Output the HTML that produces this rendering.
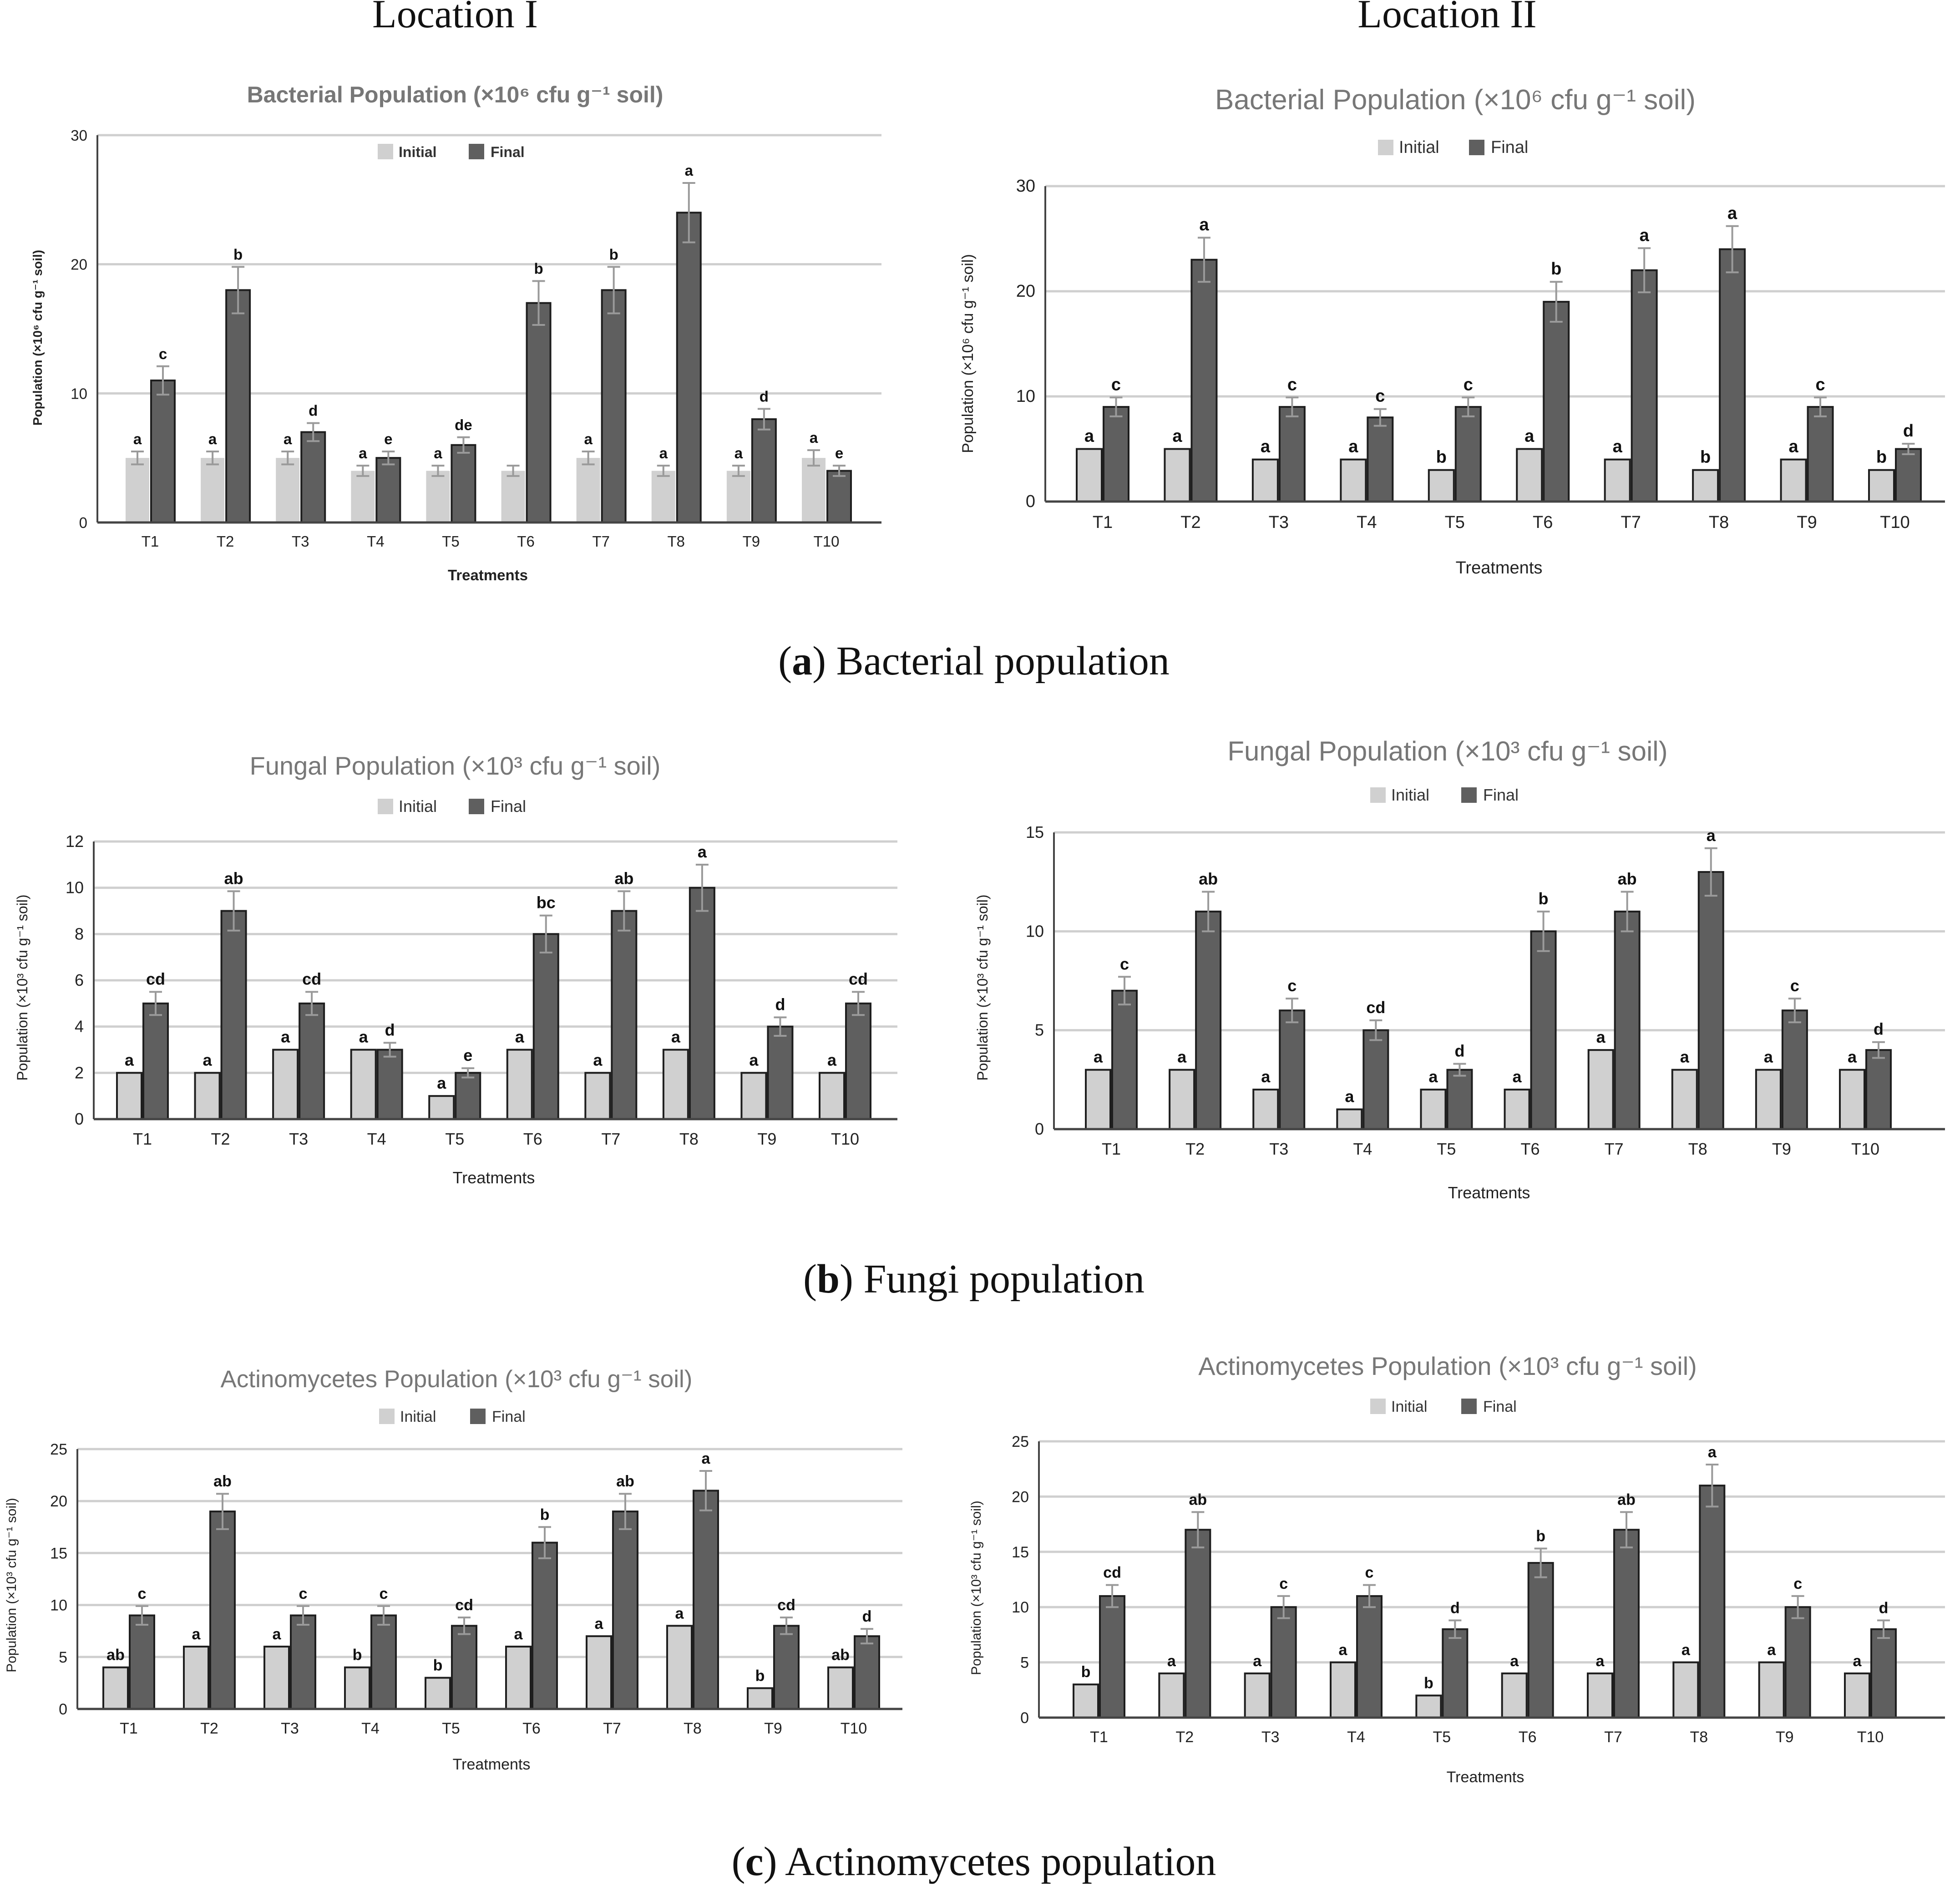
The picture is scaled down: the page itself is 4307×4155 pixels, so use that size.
<!DOCTYPE html>
<html><head><meta charset="utf-8"><style>
html,body{margin:0;padding:0;background:#fff;}
svg{display:block;}
</style></head><body>
<svg id="fig" width="4307" height="4155" viewBox="0 0 4307 4155" xmlns="http://www.w3.org/2000/svg">
<text x="1000" y="60" font-family="Liberation Serif, serif" font-size="88" text-anchor="middle" fill="#111">Location I</text>
<text x="3180" y="60" font-family="Liberation Serif, serif" font-size="88" text-anchor="middle" fill="#111">Location II</text>
<text x="2140" y="1482" font-family="Liberation Serif, serif" font-size="90" text-anchor="middle" fill="#111">(<tspan font-weight="bold">a</tspan>) Bacterial population</text>
<text x="2140" y="2840" font-family="Liberation Serif, serif" font-size="90" text-anchor="middle" fill="#111">(<tspan font-weight="bold">b</tspan>) Fungi population</text>
<text x="2140" y="4120" font-family="Liberation Serif, serif" font-size="90" text-anchor="middle" fill="#111">(<tspan font-weight="bold">c</tspan>) Actinomycetes population</text>
</svg>
<script>
// ---- data ----
const categories = ["T1","T2","T3","T4","T5","T6","T7","T8","T9","T10"];
const aLeftInitial = [5,5,5,4,4,4,5,4,4,5];
const aLeftFinal = [11,18,7,5,6,17,18,24,8,4];
const aLeftInitErr = [0.5,0.5,0.5,0.4,0.4,0.4,0.5,0.4,0.4,0.6];
const aLeftFinalErr = [1.1,1.8,0.7,0.5,0.6,1.7,1.8,2.3,0.8,0.4];
const aLeftInitLetters = ["a","a","a","a","a","","a","a","a","a"];
const aLeftFinalLetters = ["c","b","d","e","de","b","b","a","d","e"];
const aLeftTicks = [0,10,20,30];

const aRightInitial = [5,5,4,4,3,5,4,3,4,3];
const aRightFinal = [9,23,9,8,9,19,22,24,9,5];
const aRightInitErr = [0,0,0,0,0,0,0,0,0,0];
const aRightFinalErr = [0.9,2.1,0.9,0.8,0.9,1.9,2.1,2.2,0.9,0.5];
const aRightInitLetters = ["a","a","a","a","b","a","a","b","a","b"];
const aRightFinalLetters = ["c","a","c","c","c","b","a","a","c","d"];
const aRightTicks = [0,10,20,30];

const bLeftInitial = [2,2,3,3,1,3,2,3,2,2];
const bLeftFinal = [5,9,5,3,2,8,9,10,4,5];
const bLeftInitErr = [0,0,0,0,0,0,0,0,0,0];
const bLeftFinalErr = [0.5,0.85,0.5,0.3,0.2,0.8,0.85,1.0,0.4,0.5];
const bLeftInitLetters = ["a","a","a","a","a","a","a","a","a","a"];
const bLeftFinalLetters = ["cd","ab","cd","d","e","bc","ab","a","d","cd"];
const bLeftTicks = [0,2,4,6,8,10,12];

const bRightInitial = [3,3,2,1,2,2,4,3,3,3];
const bRightFinal = [7,11,6,5,3,10,11,13,6,4];
const bRightInitErr = [0,0,0,0,0,0,0,0,0,0];
const bRightFinalErr = [0.7,1.0,0.6,0.5,0.3,1.0,1.0,1.2,0.6,0.4];
const bRightInitLetters = ["a","a","a","a","a","a","a","a","a","a"];
const bRightFinalLetters = ["c","ab","c","cd","d","b","ab","a","c","d"];
const bRightTicks = [0,5,10,15];

const cLeftInitial = [4,6,6,4,3,6,7,8,2,4];
const cLeftFinal = [9,19,9,9,8,16,19,21,8,7];
const cLeftInitErr = [0,0,0,0,0,0,0,0,0,0];
const cLeftFinalErr = [0.9,1.7,0.9,0.9,0.8,1.5,1.7,1.9,0.8,0.7];
const cLeftInitLetters = ["ab","a","a","b","b","a","a","a","b","ab"];
const cLeftFinalLetters = ["c","ab","c","c","cd","b","ab","a","cd","d"];
const cLeftTicks = [0,5,10,15,20,25];

const cRightInitial = [3,4,4,5,2,4,4,5,5,4];
const cRightFinal = [11,17,10,11,8,14,17,21,10,8];
const cRightInitErr = [0,0,0,0,0,0,0,0,0,0];
const cRightFinalErr = [1.0,1.6,1.0,1.0,0.8,1.3,1.6,1.9,1.0,0.8];
const cRightInitLetters = ["b","a","a","a","b","a","a","a","a","a"];
const cRightFinalLetters = ["cd","ab","c","c","d","b","ab","a","c","d"];
const cRightTicks = [0,5,10,15,20,25];

// ---- layout ----
const NS = "http://www.w3.org/2000/svg";
const svg = document.getElementById("fig");
const FONT = "Liberation Sans, DejaVu Sans, sans-serif";
function mk(tag, attrs, parent){ const e=document.createElementNS(NS,tag); for(const k in attrs) e.setAttribute(k,attrs[k]); (parent||svg).appendChild(e); return e; }

function drawChart(cfg, init, fin, ie, fe, il, fl, ticks){
  const g = mk("g",{});
  
  
  const ymax = ticks[ticks.length-1];
  const yS = v => cfg.y0 - (v/ymax)*(cfg.y0-cfg.yTop);
  const step = (cfg.c10 - cfg.c1)/(categories.length-1);
  const xS = i => cfg.c1 + i*step;
  const bw = cfg.bw;
  const t = mk("text",{x:cfg.tx,y:cfg.ty,"font-family":FONT,"font-size":cfg.tfs,"text-anchor":"middle",fill:"#777","font-weight":cfg.bold?"bold":"normal"},g);
  t.textContent = cfg.title;
  
  
  const lx = cfg.lx, ly = cfg.ly;
  const s1 = mk("rect",{x:lx-170,y:ly-17,width:34,height:34,fill:"#d0d0d0"},g);
  
  
  const l1 = mk("text",{x:lx-124,y:ly+12,"font-family":FONT,"font-size":cfg.lfs,fill:"#333","font-weight":cfg.bold?"bold":"normal"},g);
  l1.textContent="Initial";
  
  
  const s2 = mk("rect",{x:lx+30,y:ly-17,width:34,height:34,fill:"#5f5f5f"},g);
  
  
  const l2 = mk("text",{x:lx+78,y:ly+12,"font-family":FONT,"font-size":cfg.lfs,fill:"#333","font-weight":cfg.bold?"bold":"normal"},g);
  l2.textContent="Final";
  
  
  ticks.forEach(v=>{
    const y=yS(v);
    if(v>0){ const gl=mk("line",{x1:cfg.xl,x2:cfg.xr,y1:y,y2:y,stroke:"#cfcfcf","stroke-width":5},g);
      
       }
    const tl=mk("text",{x:cfg.xl-22,y:y+12,"font-family":FONT,"font-size":cfg.fs,"text-anchor":"end",fill:"#222"},g);
    tl.textContent=v;
    
    
  });
  const ya=mk("line",{x1:cfg.xl,x2:cfg.xl,y1:cfg.yTop,y2:cfg.y0,stroke:"#444","stroke-width":4},g);
  
  
  categories.forEach((c,i)=>{
    const cx=xS(i);
    [[init,ie,il,"#d0d0d0",cx-bw-2,"initial"],[fin,fe,fl,"#5f5f5f",cx+2,"final"]].forEach(([vals,errs,lets,col,x,kind])=>{
      const v=vals[i], y=yS(v);
      const r=mk("rect",{x:x,y:y,width:bw,height:cfg.y0-y,fill:col,stroke:"#1e1e1e","stroke-width":(kind==="final"||errs[i]===0)?4:0},g);
      
      
      let top=y;
      if(errs[i]>0){
        const yt=yS(v+errs[i]), yb=yS(v-errs[i]), mx=x+bw/2;
        const eb=mk("path",{d:`M${mx},${yt}V${yb}M${mx-14},${yt}H${mx+14}M${mx-14},${yb}H${mx+14}`,stroke:"#9a9a9a","stroke-width":4,fill:"none"},g);
        
        
        top=yt;
      }
      if(lets[i]){
        const lt=mk("text",{x:x+bw/2,y:top-16,"font-family":FONT,"font-size":cfg.fs,"font-weight":"bold","text-anchor":"middle",fill:"#111"},g);
        lt.textContent=lets[i];
        
        
      }
    });
    const xl=mk("text",{x:cx,y:cfg.y0+cfg.fs+20,"font-family":FONT,"font-size":cfg.fs,"text-anchor":"middle",fill:"#222"},g);
    xl.textContent=c;
    
    
  });
  const xa=mk("line",{x1:cfg.xl,x2:cfg.xr,y1:cfg.y0,y2:cfg.y0,stroke:"#444","stroke-width":5},g);
  
  
  const xt=mk("text",{x:cfg.xtx,y:cfg.xty,"font-family":FONT,"font-size":cfg.fs,"text-anchor":"middle",fill:"#222","font-weight":cfg.bold?"bold":"normal"},g);
  xt.textContent="Treatments";
  
  
  const yt=mk("text",{x:0,y:0,"font-family":FONT,"font-size":cfg.yfs,"text-anchor":"middle",fill:"#222","font-weight":cfg.bold?"bold":"normal",transform:`translate(${cfg.ytx},${cfg.yty}) rotate(-90)`},g);
  yt.textContent=cfg.ytitle;
  
  
}

const bacT = "Bacterial Population (×10⁶ cfu g⁻¹ soil)";
const funT = "Fungal Population (×10³ cfu g⁻¹ soil)";
const actT = "Actinomycetes Population (×10³ cfu g⁻¹ soil)";

drawChart({name:"chart-bacterial-location-1",title:bacT,bold:true,tx:1000,ty:225,tfs:50,lx:1000,ly:333,lfs:32,fs:33,yfs:28,
  xl:214,xr:1937,y0:1148,yTop:297,c1:330,c10:1816,bw:52,xtx:1072,xty:1275,ytx:92,yty:742,ytitle:"Population (×10⁶ cfu g⁻¹ soil)"},
  aLeftInitial,aLeftFinal,aLeftInitErr,aLeftFinalErr,aLeftInitLetters,aLeftFinalLetters,aLeftTicks);
drawChart({name:"chart-bacterial-location-2",title:bacT,tx:3198,ty:240,tfs:62,lx:3198,ly:324,lfs:38,fs:38,yfs:34,
  xl:2297,xr:4274,y0:1102,yTop:409,c1:2423,c10:4164,bw:55,xtx:3294,xty:1260,ytx:2138,yty:777,ytitle:"Population (×10⁶ cfu g⁻¹ soil)"},
  aRightInitial,aRightFinal,aRightInitErr,aRightFinalErr,aRightInitLetters,aRightFinalLetters,aRightTicks);
drawChart({name:"chart-fungal-location-1",title:funT,tx:1000,ty:1702,tfs:56,lx:1000,ly:1772,lfs:36,fs:36,yfs:32,
  xl:206,xr:1972,y0:2459,yTop:1849,c1:313,c10:1857,bw:54,xtx:1085,xty:2600,ytx:60,yty:2170,ytitle:"Population (×10³ cfu g⁻¹ soil)"},
  bLeftInitial,bLeftFinal,bLeftInitErr,bLeftFinalErr,bLeftInitLetters,bLeftFinalLetters,bLeftTicks);
drawChart({name:"chart-fungal-location-2",title:funT,tx:3181,ty:1671,tfs:60,lx:3181,ly:1747,lfs:36,fs:36,yfs:32,
  xl:2316,xr:4274,y0:2481,yTop:1829,c1:2442,c10:4099,bw:54,xtx:3272,xty:2633,ytx:2170,yty:2170,ytitle:"Population (×10³ cfu g⁻¹ soil)"},
  bRightInitial,bRightFinal,bRightInitErr,bRightFinalErr,bRightInitLetters,bRightFinalLetters,bRightTicks);
drawChart({name:"chart-actinomycetes-location-1",title:actT,tx:1003,ty:3048,tfs:53,lx:1003,ly:3112,lfs:34,fs:34,yfs:30,
  xl:170,xr:1983,y0:3755,yTop:3184,c1:283,c10:1876,bw:54,xtx:1080,xty:3888,ytx:35,yty:3483,ytitle:"Population (×10³ cfu g⁻¹ soil)"},
  cLeftInitial,cLeftFinal,cLeftInitErr,cLeftFinalErr,cLeftInitLetters,cLeftFinalLetters,cLeftTicks);
drawChart({name:"chart-actinomycetes-location-2",title:actT,tx:3181,ty:3021,tfs:56,lx:3181,ly:3090,lfs:34,fs:34,yfs:30,
  xl:2283,xr:4274,y0:3774,yTop:3167,c1:2415,c10:4110,bw:54,xtx:3264,xty:3916,ytx:2155,yty:3489,ytitle:"Population (×10³ cfu g⁻¹ soil)"},
  cRightInitial,cRightFinal,cRightInitErr,cRightFinalErr,cRightInitLetters,cRightFinalLetters,cRightTicks);
</script>
</body></html>
